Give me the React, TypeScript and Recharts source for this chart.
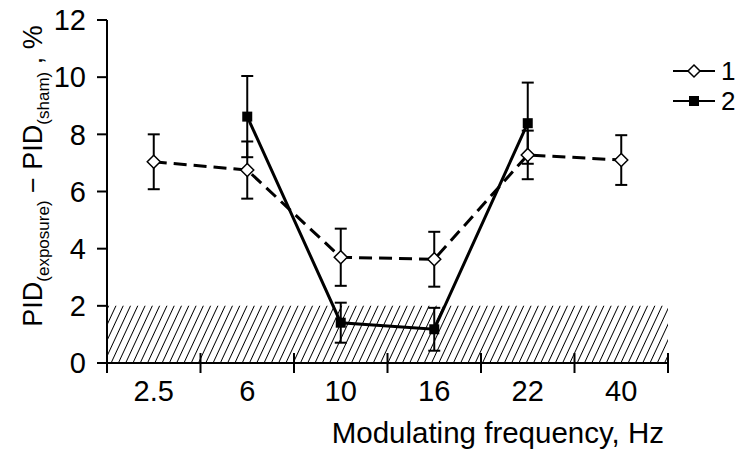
import React from 'react';
import { LineChart, Line, XAxis, YAxis, ErrorBar, ReferenceArea, Legend } from 'recharts';

const categories = ['2.5', '6', '10', '16', '22', '40'];
const series1 = [7.04, 6.75, 3.7, 3.63, 7.28, 7.1];
const series1Err = [0.96, 1.0, 1.0, 0.96, 0.85, 0.87];
const series2 = [null, 8.62, 1.41, 1.18, 8.39, null];
const series2Err = [null, 1.42, 0.7, 0.75, 1.42, null];
const yTicks = [0, 2, 4, 6, 8, 10, 12];
const seriesNames = ['1', '2'];
const shadedBand = [0, 2];

const data = categories.map((c, i) => ({
  pos: i + 0.5,
  s1: series1[i],
  e1: series1Err[i],
  s2: series2[i],
  e2: series2Err[i],
}));

const xTicks: number[] = [];
for (let i = 0; i <= categories.length; i++) {
  xTicks.push(i);
  if (i < categories.length) xTicks.push(i + 0.5);
}

const FONT = 'Liberation Sans, Arial, Helvetica, sans-serif';

const XTick = (props: any) => {
  const { x, y, payload } = props;
  const v = payload.value;
  if (Number.isInteger(v)) {
    return <line x1={x} x2={x} y1={y - 10} y2={y + 10} stroke="#000" strokeWidth={2} />;
  }
  return (
    <text x={x} y={y + 38} textAnchor="middle" fontSize={29} fontFamily={FONT} fill="#000">
      {categories[Math.floor(v)]}
    </text>
  );
};

const Diamond = (props: any) => {
  const { cx, cy, index } = props;
  if (cx == null || cy == null || props.value == null) return <g key={`d${index}`} />;
  const r = 6.5;
  return (
    <polygon
      key={`d${index}`}
      points={`${cx},${cy - r} ${cx + r},${cy} ${cx},${cy + r} ${cx - r},${cy}`}
      fill="#fff"
      stroke="#000"
      strokeWidth={1.5}
    />
  );
};

const Square = (props: any) => {
  const { cx, cy, index } = props;
  if (cx == null || cy == null || props.value == null) return <g key={`s${index}`} />;
  const h = 5;
  return <rect key={`s${index}`} x={cx - h} y={cy - h} width={2 * h} height={2 * h} fill="#000" />;
};

const renderLegend = () => (
  <svg width={78} height={70}>
    {seriesNames.map((n, i) => {
      const y = 16 + i * 30;
      return (
        <g key={n}>
          <line x1={8} x2={50} y1={y} y2={y} stroke="#000" strokeWidth={2} />
          {i === 0 ? (
            <polygon points={`29,${y - 6} 35,${y} 29,${y + 6} 23,${y}`} fill="#fff" stroke="#000" strokeWidth={1.5} />
          ) : (
            <rect x={24} y={y - 5} width={10} height={10} fill="#000" />
          )}
          <text x={56} y={y + 9} fontSize={26} fontFamily={FONT} fill="#000">
            {n}
          </text>
        </g>
      );
    })}
  </svg>
);

const renderYLabel = () => {
  const cx = 42;
  const cy = 176;
  return (
    <text
      x={cx}
      y={cy}
      transform={`rotate(-90, ${cx}, ${cy})`}
      textAnchor="middle"
      fontSize={27}
      fontFamily={FONT}
      fill="#000"
    >
      <tspan>PID</tspan>
      <tspan fontSize={17} dy={7}>(exposure)</tspan>
      <tspan dy={-7}> − PID</tspan>
      <tspan fontSize={17} dy={7}>(sham)</tspan>
      <tspan dy={-7}> , %</tspan>
    </text>
  );
};

const renderXLabel = () => (
  <text x={664} y={443} textAnchor="end" fontSize={29.5} fontFamily={FONT} fill="#000">
    Modulating frequency, Hz
  </text>
);

export default function App() {
  return (
    <div style={{ position: 'absolute', left: 0, top: 0, width: 743, height: 455, background: '#fff' }}>
      <LineChart width={743} height={455} data={data} margin={{ top: 20, right: 75, bottom: 0, left: 0 }}>
        <defs>
          <pattern id="hatch" patternUnits="userSpaceOnUse" width={6.6} height={10} patternTransform="rotate(25)">
            <line x1={3.3} y1={0} x2={3.3} y2={10} stroke="#000" strokeWidth={1} />
          </pattern>
        </defs>
        <XAxis
          dataKey="pos"
          type="number"
          domain={[0, categories.length]}
          ticks={xTicks}
          interval={0}
          tick={<XTick />}
          tickLine={false}
          tickSize={0}
          tickMargin={0}
          axisLine={{ stroke: '#000', strokeWidth: 2 }}
          height={92}
          label={renderXLabel}
        />
        <YAxis
          type="number"
          domain={[yTicks[0], yTicks[yTicks.length - 1]]}
          ticks={yTicks}
          interval={0}
          width={107}
          tickSize={10}
          tickMargin={11}
          tickLine={{ stroke: '#000', strokeWidth: 2 }}
          axisLine={{ stroke: '#000', strokeWidth: 2 }}
          tick={{ fill: '#000', fontSize: 29, fontFamily: FONT }}
          label={renderYLabel}
        />
        <ReferenceArea
          x1={0}
          x2={categories.length}
          y1={shadedBand[0]}
          y2={shadedBand[1]}
          fill="url(#hatch)"
          fillOpacity={1}
          stroke="none"
        />
        <Legend
          layout="horizontal"
          verticalAlign="middle"
          align="center"
          wrapperStyle={{ position: 'absolute', left: 665, top: 55, width: 78, height: 70 }}
          content={renderLegend}
        />
        <Line
          type="linear"
          dataKey="s2"
          name={seriesNames[1]}
          stroke="#000"
          strokeWidth={3}
          dot={Square}
          activeDot={false}
          isAnimationActive={false}
        >
          <ErrorBar dataKey="e2" width={6} stroke="#000" strokeWidth={2} direction="y" />
        </Line>
        <Line
          type="linear"
          dataKey="s1"
          name={seriesNames[0]}
          stroke="#000"
          strokeWidth={3}
          strokeDasharray="13 7"
          dot={Diamond}
          activeDot={false}
          isAnimationActive={false}
        >
          <ErrorBar dataKey="e1" width={6} stroke="#000" strokeWidth={2} direction="y" />
        </Line>
      </LineChart>
    </div>
  );
}
